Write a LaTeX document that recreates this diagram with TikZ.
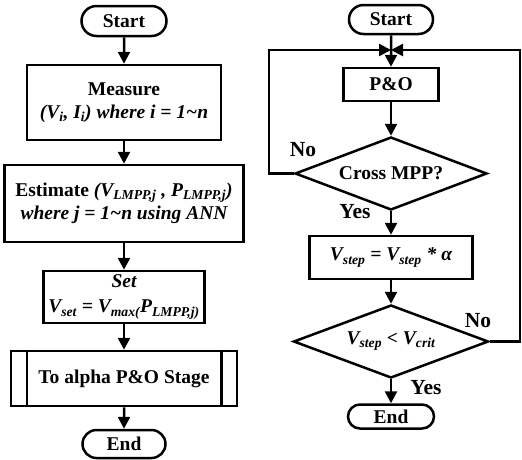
\documentclass[tikz,border=0pt]{standalone}
\usepackage{fontspec}
\setmainfont{Liberation Serif}
\usetikzlibrary{shapes.geometric,shapes.misc,arrows.meta}
\newcommand\sbs[1]{\textsubscript{#1}}
\begin{document}
\begin{tikzpicture}[x=1pt,y=-1pt, line width=2.5pt,
  every node/.style={font=\fontsize{19.5}{23}\selectfont\bfseries, align=center, inner sep=0pt},
  box/.style={draw, rectangle},
  term/.style={draw, rounded rectangle},
  dec/.style={draw, diamond, aspect=2.65},
  arr/.style={-{Triangle[length=12pt,width=12pt]}},
  lab/.style={font=\fontsize{21.5}{24}\selectfont\bfseries}
]
\useasboundingbox (0,0) rectangle (522,459);

% left column
\node[term, minimum width=85pt, minimum height=30pt] (s1) at (124,21) {Start};
\node[box, minimum width=194pt, minimum height=75pt] (m) at (124,102.5)
  {Measure\\\itshape (V\sbs{i}, I\sbs{i}) where i = 1\textasciitilde n};
\node[box, minimum width=239pt, minimum height=77pt] (e) at (124,203.5)
  {Estimate \textit{(V\sbs{LMPP,j} , P\sbs{LMPP,j})}\\\itshape where j = 1\textasciitilde n using ANN};
\node[box, minimum width=161pt, minimum height=52pt] (st) at (124,297)
  {\itshape Set\\[2pt]\itshape V\sbs{set} = V\sbs{max(}P\sbs{LMPP,j)}};
\node[box, minimum width=226pt, minimum height=55pt] (al) at (124,378.5) {To alpha P\&O Stage};
\draw ([xshift=17pt]al.north west) -- ([xshift=17pt]al.south west);
\draw ([xshift=-17pt]al.north east) -- ([xshift=-17pt]al.south east);
\node[term, minimum width=83pt, minimum height=28pt] (e1) at (124,444) {End};

\draw[arr] (s1) -- (m);
\draw[arr] (m) -- (e);
\draw[arr] (e) -- (st);
\draw[arr] (st) -- (al);
\draw[arr] (al) -- (e1);

% right column
\node[term, minimum width=84pt, minimum height=29pt] (s2) at (391,19.5) {Start};
\coordinate (j) at (391,50);
\node[box, minimum width=95pt, minimum height=33pt] (po) at (391,84.5) {P\&O};
\node[dec, minimum width=192pt, minimum height=73pt] (d1) at (391,173.5) {Cross MPP?};
\node[box, minimum width=163pt, minimum height=43pt] (vs) at (391,257.5)
  {\itshape V\sbs{step} = V\sbs{step} * α};
\node[dec, minimum width=195pt, minimum height=73pt] (d2) at (391,341.5)
  {\itshape V\sbs{step} < V\sbs{crit}};
\node[term, minimum width=86pt, minimum height=24pt] (e2) at (391,416.5) {End};

\coordinate (l1) at (269,50);
\coordinate (r1) at (520,50);

\draw[arr] (s2) -- (po);
\draw[arr] (po) -- (d1);
\draw[arr] (d1) -- (vs);
\draw[arr] (vs) -- (d2);
\draw[arr] (d2) -- (e2);
\draw[arr] (d1.west) -| (l1) -- (j);
\draw[arr] (d2.east) -| (r1) -- (j);

\node[lab] (no1) at (303,150) {No};
\node[lab] (yes1) at (355,212) {Yes};
\node[lab] (no2) at (478,321) {No};
\node[lab] (yes2) at (426,388) {Yes};
\end{tikzpicture}
\end{document}
